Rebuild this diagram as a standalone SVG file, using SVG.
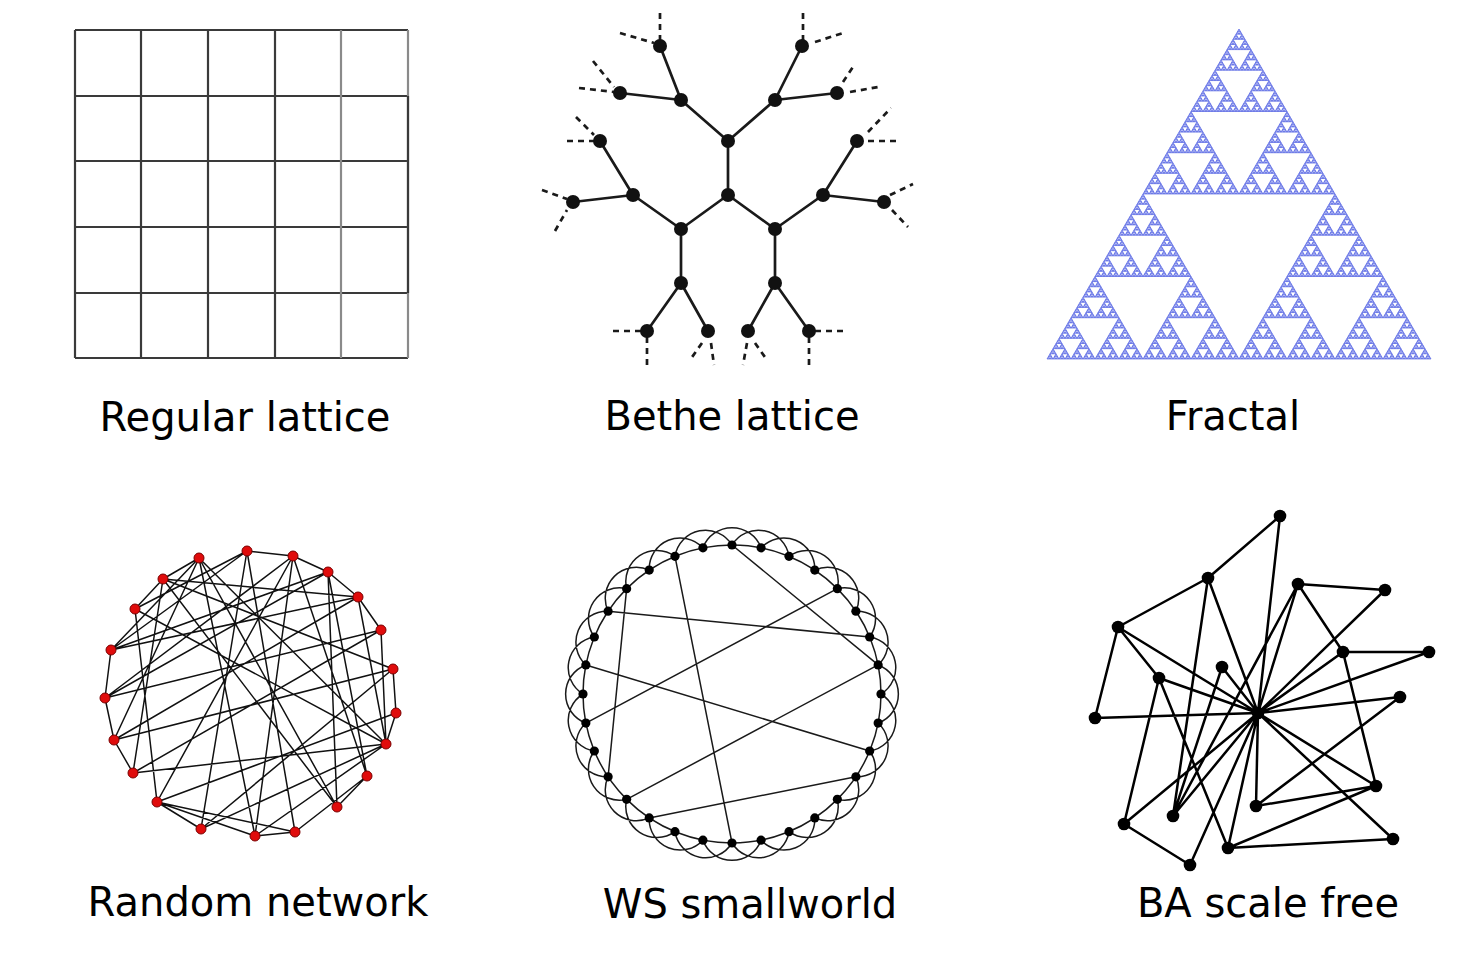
<svg xmlns="http://www.w3.org/2000/svg" xmlns:xlink="http://www.w3.org/1999/xlink" width="1484" height="961" viewBox="0 0 1484 961">
<style>
.lbl{font-family:"DejaVu Sans","Liberation Sans",sans-serif;font-size:40px;fill:#000;text-anchor:middle}
.grid{stroke:#3a3a3a;stroke-width:2.2;fill:none}
.gridl{stroke:#8a8a8a;stroke-width:2.2;fill:none}
.be{stroke:#1a1a1a;stroke-width:2.7;fill:none}
.bd{stroke:#1a1a1a;stroke-width:2.7;fill:none;stroke-dasharray:6 5}
.bn{fill:#111}
.re{stroke:#111;stroke-width:1.5;fill:none}
.rn{fill:#e00c0c;stroke:#7a0000;stroke-width:1}
.we{stroke:#1a1a1a;stroke-width:1.5;fill:none}
.wn{fill:#000}
.ba{stroke:#000;stroke-width:2.5;fill:none}
.bnode{fill:#000}
.tri{fill:#a3adf3;stroke:#4a5ae0;stroke-width:0.65}
</style>
<defs>
<polygon id="f0" class="tri" points="0,0 -1.5,2.578 1.5,2.578"/>
<g id="f1"><use href="#f0"/><use href="#f0" x="-1.5" y="2.578"/><use href="#f0" x="1.5" y="2.578"/></g>
<g id="f2"><use href="#f1"/><use href="#f1" x="-3" y="5.156"/><use href="#f1" x="3" y="5.156"/></g>
<g id="f3"><use href="#f2"/><use href="#f2" x="-6" y="10.3125"/><use href="#f2" x="6" y="10.3125"/></g>
<g id="f4"><use href="#f3"/><use href="#f3" x="-12" y="20.625"/><use href="#f3" x="12" y="20.625"/></g>
<g id="f5"><use href="#f4"/><use href="#f4" x="-24" y="41.25"/><use href="#f4" x="24" y="41.25"/></g>
<g id="f6"><use href="#f5"/><use href="#f5" x="-48" y="82.5"/><use href="#f5" x="48" y="82.5"/></g>
<g id="f7"><use href="#f6"/><use href="#f6" x="-96" y="165"/><use href="#f6" x="96" y="165"/></g>
</defs>
<rect width="1484" height="961" fill="#fff"/>

<!-- Regular lattice -->
<g id="regular-lattice">
<path class="grid" d="M75,30V358M141,30V358M208,30V358M275,30V358M75,30H408M75,96H408M75,161H408M75,227H408M75,293H408M75,358H408"/>
<path class="gridl" d="M341,30V358M408,30V358"/>
<path class="grid" d="M408,96V293"/>
</g>

<!-- Bethe lattice -->
<g id="bethe-lattice">
<g id="bethe-edges">
<path class="be" d="M728,195V141M728,195L681,229M728,195L775,229M728,141L681,100M728,141L775,100M681,100L660,46M681,100L620,93M775,100L802,46M775,100L837,93M681,229L633,195M681,229V283M633,195L600,141M633,195L573,202M775,229L823,195M775,229V283M823,195L857,141M823,195L884,202M681,283L647,331M681,283L708,331M775,283L748,331M775,283L809,331"/>
<path class="bd" d="M660,13V40M620,33L654,43M579,88L614,92M593,61L614,87M803,13V40M815,42L843,33M850,92L878,87M843,82L855,64M567,141H594M576,117L594,135M868,141H898M868,132L891,108M542,190L567,199M555,231L567,210M890,195L913,184M892,210L908,227M613,331H641M647,337V365M702,343L690,360M711,343L714,365M747,343L743,365M755,343L767,360M815,331H843M809,337V365"/>
</g>
<g class="bn">
<circle cx="728" cy="195" r="7"/><circle cx="728" cy="141" r="7"/><circle cx="681" cy="229" r="7"/><circle cx="775" cy="229" r="7"/>
<circle cx="681" cy="100" r="7"/><circle cx="775" cy="100" r="7"/><circle cx="633" cy="195" r="7"/><circle cx="823" cy="195" r="7"/>
<circle cx="681" cy="283" r="7"/><circle cx="775" cy="283" r="7"/>
<circle cx="660" cy="46" r="7"/><circle cx="620" cy="93" r="7"/><circle cx="802" cy="46" r="7"/><circle cx="837" cy="93" r="7"/>
<circle cx="600" cy="141" r="7"/><circle cx="857" cy="141" r="7"/><circle cx="573" cy="202" r="7"/><circle cx="884" cy="202" r="7"/>
<circle cx="647" cy="331" r="7"/><circle cx="708" cy="331" r="7"/><circle cx="748" cy="331" r="7"/><circle cx="809" cy="331" r="7"/>
</g>
</g>

<!-- Fractal -->
<g id="fractal">
<use href="#f7" x="1239" y="29"/>
</g>

<!-- Random network -->
<g id="random-network">
<path class="re" d="M247,551L293,556M293,556L328,572M328,572L358,597M358,597L381,630M199,558L163,579M163,579L135,609M111,650L105,698M105,698L114,740M114,740L133,773M295,832L255,836M337,807L367,776M381,630L386,744M393,669L396,713
M247,551L201,829M247,551L295,832M247,551L135,609M247,551L111,650
M293,556L255,836M293,556L367,776M293,556L157,802M293,556L105,698
M328,572L337,807M328,572L111,650M328,572L367,776M328,572L105,698
M358,597L114,740M358,597L386,744M358,597L163,579
M381,630L133,773M381,630L105,698
M393,669L114,740M393,669L201,829M393,669L163,579
M396,713L157,802M396,713L386,744
M386,744L133,773M386,744L201,829M386,744L255,836M386,744L135,609M386,744L199,558
M367,776L295,832
M337,807L199,558M337,807L163,579
M295,832L157,802
M255,836L157,802M255,836L199,558
M157,802L201,829M157,802L135,609
M111,650L199,558M114,740L199,558M133,773L163,579
M105,698L381,630M111,650L358,597"/>
<g>
<circle class="rn" cx="247" cy="551" r="5"/><circle class="rn" cx="293" cy="556" r="5"/><circle class="rn" cx="328" cy="572" r="5"/><circle class="rn" cx="358" cy="597" r="5"/>
<circle class="rn" cx="381" cy="630" r="5"/><circle class="rn" cx="393" cy="669" r="5"/><circle class="rn" cx="396" cy="713" r="5"/><circle class="rn" cx="386" cy="744" r="5"/>
<circle class="rn" cx="367" cy="776" r="5"/><circle class="rn" cx="337" cy="807" r="5"/><circle class="rn" cx="295" cy="832" r="5"/><circle class="rn" cx="255" cy="836" r="5"/>
<circle class="rn" cx="201" cy="829" r="5"/><circle class="rn" cx="157" cy="802" r="5"/><circle class="rn" cx="133" cy="773" r="5"/><circle class="rn" cx="114" cy="740" r="5"/>
<circle class="rn" cx="105" cy="698" r="5"/><circle class="rn" cx="111" cy="650" r="5"/><circle class="rn" cx="135" cy="609" r="5"/><circle class="rn" cx="163" cy="579" r="5"/>
<circle class="rn" cx="199" cy="558" r="5"/>
</g>
</g>

<!-- WS smallworld -->
<g id="ws-smallworld">
<circle class="we" cx="732" cy="694" r="149"/>
<path class="we" d="M732,545A31,31 0 0 1 789.02,556.34M761.07,547.86A31,31 0 0 1 814.78,570.11M789.02,556.34A31,31 0 0 1 837.36,588.64M814.78,570.11A31,31 0 0 1 855.89,611.22M837.36,588.64A31,31 0 0 1 869.66,636.98M855.89,611.22A31,31 0 0 1 878.14,664.93M869.66,636.98A31,31 0 0 1 881,694M878.14,664.93A31,31 0 0 1 878.14,723.07M881,694A31,31 0 0 1 869.66,751.02M878.14,723.07A31,31 0 0 1 855.89,776.78M869.66,751.02A31,31 0 0 1 837.36,799.36M855.89,776.78A31,31 0 0 1 814.78,817.89M837.36,799.36A31,31 0 0 1 789.02,831.66M814.78,817.89A31,31 0 0 1 761.07,840.14M789.02,831.66A31,31 0 0 1 732,843M761.07,840.14A31,31 0 0 1 702.93,840.14M732,843A31,31 0 0 1 674.98,831.66M702.93,840.14A31,31 0 0 1 649.22,817.89M674.98,831.66A31,31 0 0 1 626.64,799.36M649.22,817.89A31,31 0 0 1 608.11,776.78M626.64,799.36A31,31 0 0 1 594.34,751.02M608.11,776.78A31,31 0 0 1 585.86,723.07M594.34,751.02A31,31 0 0 1 583,694M585.86,723.07A31,31 0 0 1 585.86,664.93M583,694A31,31 0 0 1 594.34,636.98M585.86,664.93A31,31 0 0 1 608.11,611.22M594.34,636.98A31,31 0 0 1 626.64,588.64M608.11,611.22A31,31 0 0 1 649.22,570.11M626.64,588.64A31,31 0 0 1 674.98,556.34M649.22,570.11A31,31 0 0 1 702.93,547.86M674.98,556.34A31,31 0 0 1 732,545M702.93,547.86A31,31 0 0 1 761.07,547.86"/>
<path class="we" d="M674.98,556.34L732,843M732,545L878.14,664.93M626.64,588.64L608.11,776.78M608.11,611.22L869.66,636.98M585.86,723.07L837.36,588.64M585.86,664.93L869.66,751.02M626.64,799.36L878.14,664.93M649.22,817.89L855.89,776.78"/>
<g class="wn">
<circle cx="732" cy="545" r="4.6"/><circle cx="761.07" cy="547.86" r="4.6"/><circle cx="789.02" cy="556.34" r="4.6"/><circle cx="814.78" cy="570.11" r="4.6"/>
<circle cx="837.36" cy="588.64" r="4.6"/><circle cx="855.89" cy="611.22" r="4.6"/><circle cx="869.66" cy="636.98" r="4.6"/><circle cx="878.14" cy="664.93" r="4.6"/>
<circle cx="881" cy="694" r="4.6"/><circle cx="878.14" cy="723.07" r="4.6"/><circle cx="869.66" cy="751.02" r="4.6"/><circle cx="855.89" cy="776.78" r="4.6"/>
<circle cx="837.36" cy="799.36" r="4.6"/><circle cx="814.78" cy="817.89" r="4.6"/><circle cx="789.02" cy="831.66" r="4.6"/><circle cx="761.07" cy="840.14" r="4.6"/>
<circle cx="732" cy="843" r="4.6"/><circle cx="702.93" cy="840.14" r="4.6"/><circle cx="674.98" cy="831.66" r="4.6"/><circle cx="649.22" cy="817.89" r="4.6"/>
<circle cx="626.64" cy="799.36" r="4.6"/><circle cx="608.11" cy="776.78" r="4.6"/><circle cx="594.34" cy="751.02" r="4.6"/><circle cx="585.86" cy="723.07" r="4.6"/>
<circle cx="583" cy="694" r="4.6"/><circle cx="585.86" cy="664.93" r="4.6"/><circle cx="594.34" cy="636.98" r="4.6"/><circle cx="608.11" cy="611.22" r="4.6"/>
<circle cx="626.64" cy="588.64" r="4.6"/><circle cx="649.22" cy="570.11" r="4.6"/><circle cx="674.98" cy="556.34" r="4.6"/><circle cx="702.93" cy="547.86" r="4.6"/>
</g>
</g>

<!-- BA scale free -->
<g id="ba-scale-free">
<path class="ba" d="M1280,516L1208,578M1280,516L1258,713M1208,578L1118,627M1208,578L1258,713M1208,578L1173,816M1118,627L1095,718M1118,627L1258,713M1118,627L1159,678M1159,678L1258,713M1159,678L1124,824M1159,678L1228,848M1095,718L1258,713M1222,667L1258,713M1222,667L1173,816M1298,584L1385,590M1298,584L1258,713M1298,584L1173,816M1298,584L1343,652M1385,590L1258,713M1124,824L1258,713M1343,652L1429,652M1343,652L1376,786M1343,652L1258,713M1429,652L1258,713M1400,697L1258,713M1400,697L1256,806M1376,786L1258,713M1376,786L1256,806M1376,786L1228,848M1393,839L1258,713M1393,839L1228,848M1228,848L1258,713M1256,806L1258,713M1173,816L1258,713M1124,824L1190,865M1190,865L1258,713"/>
<g class="bnode">
<circle cx="1258" cy="713" r="6.3"/><circle cx="1280" cy="516" r="6.3"/><circle cx="1208" cy="578" r="6.3"/><circle cx="1298" cy="584" r="6.3"/>
<circle cx="1385" cy="590" r="6.3"/><circle cx="1118" cy="627" r="6.3"/><circle cx="1343" cy="652" r="6.3"/><circle cx="1429" cy="652" r="6.3"/>
<circle cx="1222" cy="667" r="6.3"/><circle cx="1159" cy="678" r="6.3"/><circle cx="1400" cy="697" r="6.3"/><circle cx="1095" cy="718" r="6.3"/>
<circle cx="1376" cy="786" r="6.3"/><circle cx="1256" cy="806" r="6.3"/><circle cx="1173" cy="816" r="6.3"/><circle cx="1124" cy="824" r="6.3"/>
<circle cx="1393" cy="839" r="6.3"/><circle cx="1228" cy="848" r="6.3"/><circle cx="1190" cy="865" r="6.3"/>
</g>
</g>

<g id="labels">
<text class="lbl" x="245" y="431">Regular lattice</text>
<text class="lbl" x="732" y="430">Bethe lattice</text>
<text class="lbl" x="1233" y="430">Fractal</text>
<text class="lbl" x="258" y="916">Random network</text>
<text class="lbl" x="750" y="918">WS smallworld</text>
<text class="lbl" x="1268" y="917">BA scale free</text>
</g>
</svg>
